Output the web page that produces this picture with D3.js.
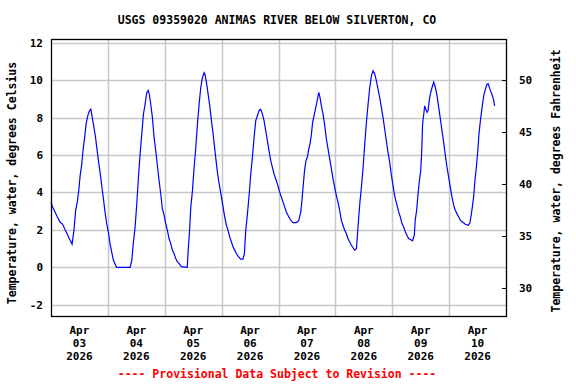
<!DOCTYPE html>
<html>
<head>
<meta charset="utf-8">
<script src="https://cdn.jsdelivr.net/npm/d3@7"></script>
<style>
  body { margin: 0; background: #fff; }
  text { font-family: "DejaVu Sans Mono", monospace; font-weight: bold; }
</style>
</head>
<body>
<svg width="576" height="384"></svg>
<script>
// data (hours after 2026-04-03 00:00, deg C)
const startTime = "2026-04-03T00:00:00";
const endTime = "2026-04-11T00:00:00";
const hours = [
  0,0.7,1.7,2.7,3.8,4.9,5.9,6.9,7.7,8.9,9.7,10.4,11.1,11.7,12.3,12.9,13.5,14.2,14.8,15.5,16.2,16.8,17.3,18,18.7,19.4,20.1,20.8,21.5,22.2,22.9,23.5,
  24.2,24.9,25.6,26.3,27.2,27.7,33.4,34.1,34.8,35.5,36.2,36.9,37.6,38.3,39,39.7,40.4,41,41.5,42.1,42.8,43.5,44.2,44.9,45.6,46.3,47,47.7,
  48.4,49.1,49.8,50.5,51.2,51.9,52.6,53.3,54,55,57.5,57.8,58.4,59,59.7,60.4,61.1,61.8,62.5,63.2,63.9,64.6,65.1,65.7,66.3,67,67.7,68.4,69.1,69.8,70.5,71.2,71.9,
  72.6,73.3,74,74.7,75.4,76.1,76.8,77.5,78.2,79.1,80,81,81.6,82.2,82.9,83.6,84.3,85,85.7,86.4,87.1,87.8,88.5,89.2,89.9,90.6,91.3,92,92.7,93.4,94.1,94.8,95.5,
  96.5,97.2,97.9,98.6,99.3,100,100.7,101.4,102.1,103.5,104.5,105.4,105.9,106.5,107,107.6,108.2,108.7,109.3,109.9,110.4,111,111.6,112.3,113,113.5,114.1,114.8,115.5,116.2,116.9,117.6,118.3,119,119.7,
  120.4,121.1,121.8,122.5,123.2,123.9,124.6,125.3,126,126.7,127.4,128.1,128.9,129.6,130.3,131,131.7,132.4,133.1,133.8,134.5,135.2,135.9,136.6,137.3,138,138.7,139.4,140.1,140.8,141.5,142.2,142.9,143.6,
  144.3,144.9,145.3,146,146.7,147.4,148.1,148.8,149.5,150.2,150.9,151.6,152.6,153.3,153.7,154.3,154.9,155.4,156,156.4,156.8,157.3,157.7,158.1,158.7,159.1,159.7,160.2,160.8,161.5,162.2,162.9,163.6,164.3,165,165.7,166.4,167.1,167.8,
  168.5,169.2,169.9,170.6,171.3,172,172.7,173.4,174.1,174.8,176,176.7,177.2,177.8,178.4,178.9,179.5,180.1,180.6,181.2,181.9,182.6,183.3,184,184.5,185.2,186,186.7,187.2
];
const tempC = [
  3.45,3.22,2.96,2.69,2.42,2.3,2.02,1.77,1.54,1.24,2.0,3.04,3.49,4.1,4.9,5.43,6.23,6.94,7.65,8.09,8.35,8.45,8.09,7.56,7.03,6.32,5.61,4.99,4.28,3.58,2.87,2.34,
  1.9,1.27,0.83,0.39,0.12,0,0,0.39,1.36,2.16,3.4,4.81,6.05,7.12,8.18,8.71,9.33,9.45,9.24,8.7,8.0,6.94,6.23,5.43,4.64,3.93,3.13,2.8,
  2.34,1.99,1.54,1.28,0.92,0.74,0.48,0.3,0.21,0.04,0,0.74,1.81,3.23,4.11,5.35,6.42,7.66,8.72,9.61,10.14,10.4,10.25,9.79,9.26,8.63,7.84,7.13,6.33,5.53,4.82,4.29,3.76,
  3.23,2.7,2.25,1.99,1.63,1.37,1.1,0.92,0.74,0.57,0.44,0.44,0.74,1.99,2.87,3.85,5.0,5.89,6.95,7.84,8.1,8.37,8.45,8.19,7.84,7.3,6.77,6.24,5.71,5.35,5.0,4.73,4.47,
  4.02,3.76,3.49,3.23,2.96,2.78,2.61,2.48,2.39,2.39,2.48,2.96,3.58,4.47,5.18,5.71,5.89,6.28,6.6,7.13,7.75,8.1,8.46,8.9,9.35,9.08,8.63,8.19,7.57,6.86,6.33,5.8,5.27,4.73,4.29,
  3.85,3.49,3.05,2.52,2.25,1.99,1.81,1.54,1.37,1.19,1.06,0.92,1.01,2.25,3.4,4.29,5.35,6.6,7.75,8.72,9.61,10.23,10.5,10.35,9.96,9.52,9.08,8.55,8.01,7.39,6.77,6.15,5.62,4.95,
  4.4,3.9,3.67,3.32,2.96,2.7,2.34,2.16,1.9,1.72,1.54,1.49,1.42,1.72,2.52,3.05,3.94,4.56,5.18,6.06,7.66,8.19,8.63,8.46,8.28,8.37,8.99,9.34,9.61,9.9,9.61,9.17,8.55,7.93,7.3,6.68,5.98,5.35,4.82,
  4.29,3.76,3.32,3.05,2.87,2.7,2.52,2.43,2.38,2.3,2.25,2.34,2.7,3.23,3.85,4.65,5.35,6.24,7.13,7.84,8.55,9.17,9.52,9.79,9.8,9.52,9.26,8.99,8.63
];
const celsiusTicks = [-2, 0, 2, 4, 6, 8, 10, 12];
const fahrenheitTicks = [30, 35, 40, 45, 50];
const dayTicks = ["2026-04-03T12:00:00","2026-04-04T12:00:00","2026-04-05T12:00:00","2026-04-06T12:00:00",
                  "2026-04-07T12:00:00","2026-04-08T12:00:00","2026-04-09T12:00:00","2026-04-10T12:00:00"];
const gridDays = ["2026-04-04","2026-04-05","2026-04-06","2026-04-07","2026-04-08","2026-04-09","2026-04-10"];

const titleText = "USGS 09359020 ANIMAS RIVER BELOW SILVERTON, CO";
const leftLabel = "Temperature, water, degrees Celsius";
const rightLabel = "Temperature, water, degrees Fahrenheit";
const footerText = "---- Provisional Data Subject to Revision ----";

const svg = d3.select("svg");
const plotLeft = 51, plotRight = 506, plotTop = 39, plotBottom = 316;

const t0 = new Date(startTime);
const x = d3.scaleTime().domain([t0, new Date(endTime)]).range([plotLeft, plotRight]);
const y = d3.scaleLinear().domain([-2.6, 12.2]).range([plotBottom, plotTop]);
const yF = d3.scaleLinear().domain([-2.6 * 1.8 + 32, 12.2 * 1.8 + 32]).range([plotBottom, plotTop]);

const parseDay = d3.timeParse("%Y-%m-%d");

// grid
svg.append("g").selectAll("line")
  .data(celsiusTicks)
  .join("line")
    .attr("x1", plotLeft).attr("x2", plotRight)
    .attr("y1", d => Math.round(y(d)) + 0.5)
    .attr("y2", d => Math.round(y(d)) + 0.5)
    .attr("stroke", "#c8c8c8")
    .attr("stroke-width", 1.5);

svg.append("g").selectAll("line")
  .data(gridDays)
  .join("line")
    .attr("x1", d => Math.round(x(parseDay(d))) + 0.5)
    .attr("x2", d => Math.round(x(parseDay(d))) + 0.5)
    .attr("y1", plotTop).attr("y2", plotBottom)
    .attr("stroke", "#c8c8c8")
    .attr("stroke-width", 1.5);

// fahrenheit ticks on right edge (inward)
svg.append("g").selectAll("line")
  .data(fahrenheitTicks)
  .join("line")
    .attr("x1", plotRight - 4).attr("x2", plotRight)
    .attr("y1", d => Math.round(yF(d)) + 0.5)
    .attr("y2", d => Math.round(yF(d)) + 0.5)
    .attr("stroke", "#000");

// the series
const line = d3.line()
  .x((d, i) => x(new Date(t0.getTime() + hours[i] * 3600e3)))
  .y(d => y(d));

svg.append("path")
  .datum(tempC)
  .attr("d", line)
  .attr("fill", "none")
  .attr("stroke", "#0000ff")
  .attr("stroke-width", 1.2);

// frame
svg.append("rect")
  .attr("x", plotLeft + 0.5).attr("y", plotTop + 0.5)
  .attr("width", plotRight - plotLeft).attr("height", plotBottom - plotTop)
  .attr("fill", "none")
  .attr("stroke", "#000")
  .attr("stroke-width", 1.3);

// left tick labels
svg.append("g").selectAll("text")
  .data(celsiusTicks)
  .join("text")
    .attr("x", 43)
    .attr("y", d => y(d) + 4)
    .attr("text-anchor", "end")
    .style("font-size", "11px")
    .text(d => d);

// right tick labels
svg.append("g").selectAll("text")
  .data(fahrenheitTicks)
  .join("text")
    .attr("x", 519)
    .attr("y", d => yF(d) + 4)
    .style("font-size", "11px")
    .text(d => d);

// date labels
const fmt = [d3.timeFormat("%b"), d3.timeFormat("%d"), d3.timeFormat("%Y")];
const dates = svg.append("g").selectAll("text")
  .data(dayTicks)
  .join("text")
    .attr("text-anchor", "middle")
    .style("font-size", "11px");
fmt.forEach((f, k) => {
  dates.append("tspan")
    .attr("x", d => x(new Date(d)))
    .attr("y", 334 + k * 13)
    .text(d => f(new Date(d)));
});

// titles
svg.append("text")
  .attr("x", 277).attr("y", 24)
  .attr("text-anchor", "middle")
  .style("font-size", "11.5px")
  .text(titleText);

svg.append("text")
  .attr("transform", "translate(16,183) rotate(-90)")
  .attr("text-anchor", "middle")
  .style("font-size", "11.5px")
  .text(leftLabel);

svg.append("text")
  .attr("transform", "translate(560,181) rotate(-90)")
  .attr("text-anchor", "middle")
  .style("font-size", "11.5px")
  .text(rightLabel);

svg.append("text")
  .attr("x", 277).attr("y", 378)
  .attr("text-anchor", "middle")
  .attr("fill", "#ff0000")
  .style("font-size", "11.5px")
  .text(footerText);
</script>
</body>
</html>
